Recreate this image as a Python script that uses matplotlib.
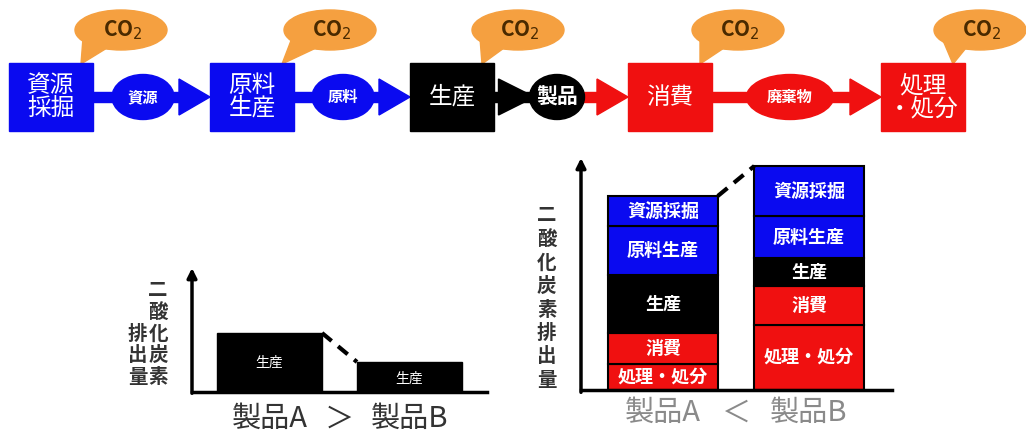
import numpy as np
import matplotlib
matplotlib.use('Agg')
import matplotlib.pyplot as plt
from matplotlib.patches import Rectangle, Ellipse, Polygon

plt.rcParams['font.family'] = ['Noto Sans CJK JP', 'DejaVu Sans']

# flow diagram
stages = ['資源\n採掘', '原料\n生産', '生産', '消費', '処理\n・処分']
stage_colors = ['#0a0af0', '#0a0af0', 'black', '#f01010', '#f01010']
flows = ['資源', '原料', '製品', '廃棄物']
flow_colors = ['#0a0af0', '#0a0af0', 'black', '#f01010']
head_colors = ['#0a0af0', '#0a0af0', '#f01010', '#f01010']
bubble_text = 'CO$_2$'

# bar charts
products = ['製品A', '製品B']
left_segments = ['生産']
left_values = [[59], [30]]
right_segments = ['処理・処分', '消費', '生産', '原料生産', '資源採掘']
right_colors = ['#f01010', '#f01010', 'black', '#0a0af0', '#0a0af0']
right_a = [26, 31, 58, 49, 30]
right_b = [65, 39, 28, 42, 50]
ylabel_text = '二酸化炭素排出量'

W, H = 1026, 434
fig = plt.figure(figsize=(W / 100, H / 100), dpi=100)
ax = fig.add_axes([0, 0, 1, 1])
ax.set_xlim(0, W)
ax.set_ylim(H, 0)
ax.axis('off')

# layout of the process row (pixels)
box_left = [9, 210, 410, 628, 881]
box_w = 84
box_top, box_bot = 63, 131
yc = (box_top + box_bot) / 2
ell_x = [143, 343, 557, 790]
ell_w = [62, 62, 55, 87]
ell_h = 45
head_len, head_half, shaft_half = 31, 18, 5
bubble_x = [121, 330, 518, 738, 980]

for i in range(len(flows)):
    x0 = box_left[i] + box_w
    x1 = box_left[i + 1]
    ax.add_patch(Rectangle((x0, yc - shaft_half), ell_x[i] - x0, 2 * shaft_half,
                           color=flow_colors[i], zorder=2))
    ax.add_patch(Rectangle((ell_x[i], yc - shaft_half), x1 - head_len - ell_x[i] + 2,
                           2 * shaft_half, color=head_colors[i], zorder=2))
    ax.add_patch(Polygon([[x1 - head_len, yc - head_half], [x1, yc],
                          [x1 - head_len, yc + head_half]],
                         color=head_colors[i], zorder=2))
    if flow_colors[i] != head_colors[i]:
        # arrow changes colour at the product: extra head into the ellipse
        hx = ell_x[i] - ell_w[i] / 2 + 5
        ax.add_patch(Polygon([[hx - 36, yc - head_half], [hx, yc],
                              [hx - 36, yc + head_half]],
                             color=flow_colors[i], zorder=2))
    ax.add_patch(Ellipse((ell_x[i], yc), ell_w[i], ell_h, color=flow_colors[i], zorder=3))
    fs = 15 if flow_colors[i] == 'black' else 11
    ax.text(ell_x[i], yc, flows[i], color='white', fontsize=fs, fontweight='bold',
            ha='center', va='center', zorder=4)

for i, (name, c) in enumerate(zip(stages, stage_colors)):
    ax.add_patch(Rectangle((box_left[i], box_top), box_w, box_bot - box_top,
                           color=c, zorder=3))
    ax.text(box_left[i] + box_w / 2, yc, name, color='white', fontsize=17,
            ha='center', va='center', linespacing=1.0, zorder=4)
    # CO2 speech bubble
    bx, by = bubble_x[i], 30
    tip = box_left[i] + box_w - 12
    ax.add_patch(Polygon([[bx - 38, by + 8], [tip, box_top + 1], [bx - 14, by + 18]],
                         color='#f5a040', zorder=1))
    ax.add_patch(Ellipse((bx, by), 92, 40, color='#f5a040', zorder=1))
    ax.text(bx + 2, by, bubble_text, color='#4a2a00', fontsize=15, fontweight='bold',
            ha='center', va='center', zorder=2)


def inset(px_left, px_right, px_top, px_bot):
    return fig.add_axes([px_left / W, 1 - px_bot / H,
                         (px_right - px_left) / W, (px_bot - px_top) / H])


def style_axis(a):
    for s in ['top', 'right', 'left']:
        a.spines[s].set_visible(False)
    a.spines['bottom'].set_linewidth(2.5)
    a.set_xticks([])
    a.set_yticks([])
    a.patch.set_alpha(0)
    a.annotate('', xy=(0, 1.0), xytext=(0, -0.01), xycoords='axes fraction',
               arrowprops=dict(arrowstyle='-|>', lw=2.5, color='black',
                               mutation_scale=14, shrinkA=0, shrinkB=0))


bw = 0.75

# left chart
al = inset(192, 487, 268, 392)
style_axis(al)
xl = np.arange(len(products))
vals = [v[0] for v in left_values]
al.bar(xl, vals, width=bw, color='black', edgecolor='black')
for x, v in zip(xl, vals):
    al.text(x, v / 2 if v > 40 else v / 2 - 2, left_segments[0], color='white',
            fontsize=10, ha='center', va='center')
al.plot([xl[0] + bw / 2, xl[1] - bw / 2], [vals[0], vals[1]], color='black',
        lw=3, ls=(0, (3, 2)), clip_on=False)
al.set_xlim(-0.554, 1.554)
al.set_ylim(0, 124)
for t, xf in [('\n'.join(ylabel_text[:5]), -0.115), ('\n'.join(ylabel_text[5:]), -0.185)]:
    al.text(xf, 0.04, t, transform=al.transAxes, fontsize=14, color='#333333',
            fontweight='bold', ha='center', va='bottom', linespacing=1.18)
for x, p in zip(xl, products):
    al.text(x, -0.22, p, transform=al.get_xaxis_transform(), fontsize=21,
            color='#333333', ha='center', va='center')
al.text(0.5, -0.22, '＞', transform=al.get_xaxis_transform(), fontsize=21,
        color='#333333', ha='center', va='center')

# right chart
ar = inset(581, 892, 158, 390)
style_axis(ar)
xr = np.arange(len(products))
stacks = [right_a, right_b]
for j, seg in enumerate(right_segments):
    heights = [s[j] for s in stacks]
    bottoms = [sum(s[:j]) for s in stacks]
    ar.bar(xr, heights, bottom=bottoms, width=bw, color=right_colors[j],
           edgecolor='black', linewidth=1.5)
    for x, h, b in zip(xr, heights, bottoms):
        ar.text(x, b + h / 2, seg, color='white', fontsize=13, fontweight='bold',
                ha='center', va='center')
tot = [sum(s) for s in stacks]
ar.plot([xr[0] + bw / 2, xr[1] - bw / 2], [tot[0], tot[1]], color='black',
        lw=3, ls=(0, (3, 2)), clip_on=False)
ar.set_xlim(-0.562, 1.568)
ar.set_ylim(0, 232)
ar.text(-0.11, 0.0, '\n'.join(ylabel_text), transform=ar.transAxes, fontsize=14,
        color='#333333', fontweight='bold', ha='center', va='bottom', linespacing=1.3)
for x, p in zip(xr, products):
    ar.text(x, -0.1, p, transform=ar.get_xaxis_transform(), fontsize=21,
            color='#8a8a8a', ha='center', va='center')
ar.text(0.5, -0.1, '＜', transform=ar.get_xaxis_transform(), fontsize=21,
        color='#8a8a8a', ha='center', va='center')

fig.savefig('out.png', dpi=100)
